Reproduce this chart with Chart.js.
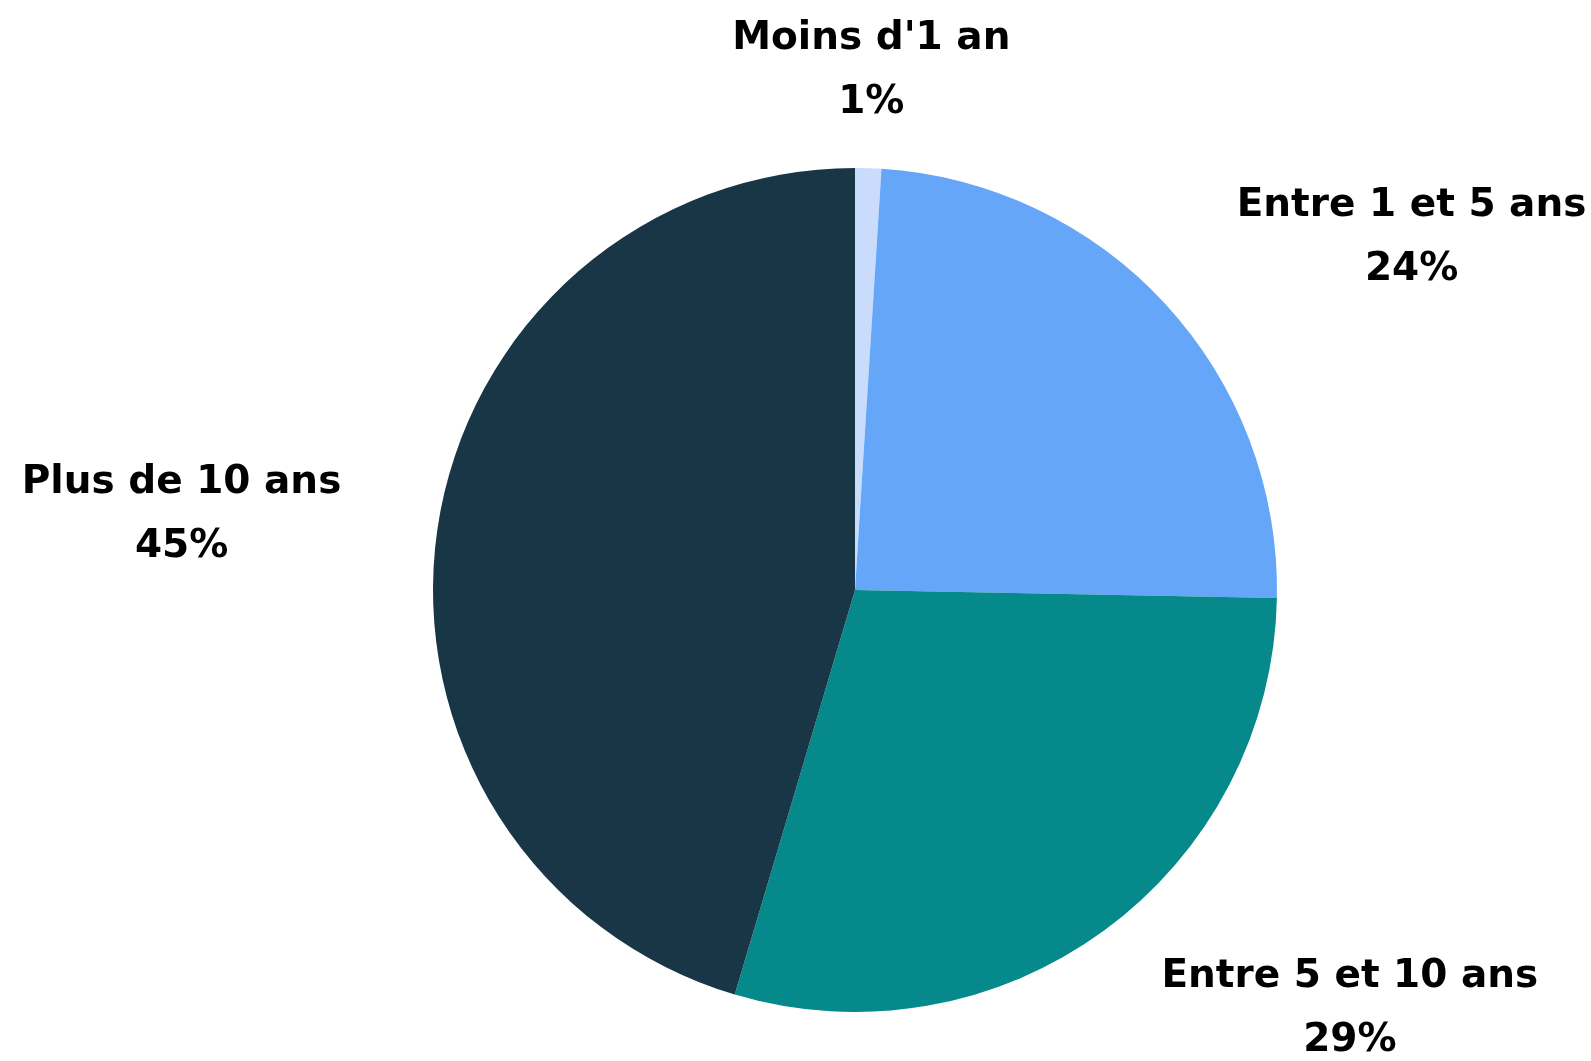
<!DOCTYPE html>
<html>
<head>
<meta charset="utf-8">
<script src="https://cdn.jsdelivr.net/npm/chart.js@4"></script>
<style>
  html, body { margin: 0; padding: 0; background: #fff; }
  #wrap { width: 1591px; height: 1061px; }
</style>
</head>
<body>
<div id="wrap"><canvas id="pieChart"></canvas></div>
<script>
// Données du graphique
const categories = ['Moins d\'1 an', 'Entre 1 et 5 ans', 'Entre 5 et 10 ans', 'Plus de 10 ans'];
const valeurs = [1.0, 24.3, 29.3, 45.4];
const couleurs = ['#c9dcfc', '#65a6f9', '#05898b', '#193647'];

// Étiquettes à l'extérieur du camembert (nom + pourcentage)
const etiquettesExterieures = {
    id: 'etiquettesExterieures',
    afterDraw(chart) {
        const ctx = chart.ctx;
        const meta = chart.getDatasetMeta(0);
        const total = valeurs.reduce((a, b) => a + b, 0);
        const taille = 39, interligne = 64;
        ctx.save();
        ctx.font = 'bold ' + taille + 'px "DejaVu Sans", sans-serif';
        ctx.fillStyle = '#000';
        ctx.textAlign = 'center';
        ctx.textBaseline = 'middle';
        meta.data.forEach((arc, i) => {
            const p = arc.getProps(['x', 'y', 'startAngle', 'endAngle', 'outerRadius'], true);
            const mid = (p.startAngle + p.endAngle) / 2;
            const lignes = [categories[i], Math.round(valeurs[i] / total * 100) + '%'];
            const w = Math.max(...lignes.map(l => ctx.measureText(l).width));
            // point d'ancrage juste à l'extérieur du secteur
            const ax = p.x + Math.cos(mid) * p.outerRadius * 1.23;
            const ay = p.y + Math.sin(mid) * p.outerRadius * 1.23;
            let cx = ax;
            if (Math.cos(mid) > 0.25) cx = ax + w / 2;
            else if (Math.cos(mid) < -0.25) cx = ax - w / 2;
            ctx.fillText(lignes[0], cx, ay - interligne / 2);
            ctx.fillText(lignes[1], cx, ay + interligne / 2);
        });
        ctx.restore();
    }
};

window.addEventListener('load', () => {
    new Chart(document.getElementById('pieChart').getContext('2d'), {
        type: 'pie',
        data: {
            labels: categories,
            datasets: [{
                data: valeurs,
                backgroundColor: couleurs,
                borderWidth: 0
            }]
        },
        options: {
            responsive: true,
            maintainAspectRatio: false,
            animation: false,
            layout: { padding: { top: 167, bottom: 48, left: 433, right: 314 } },
            plugins: {
                legend: { display: false },
                tooltip: { enabled: false }
            }
        },
        plugins: [etiquettesExterieures]
    });
});
</script>
</body>
</html>
